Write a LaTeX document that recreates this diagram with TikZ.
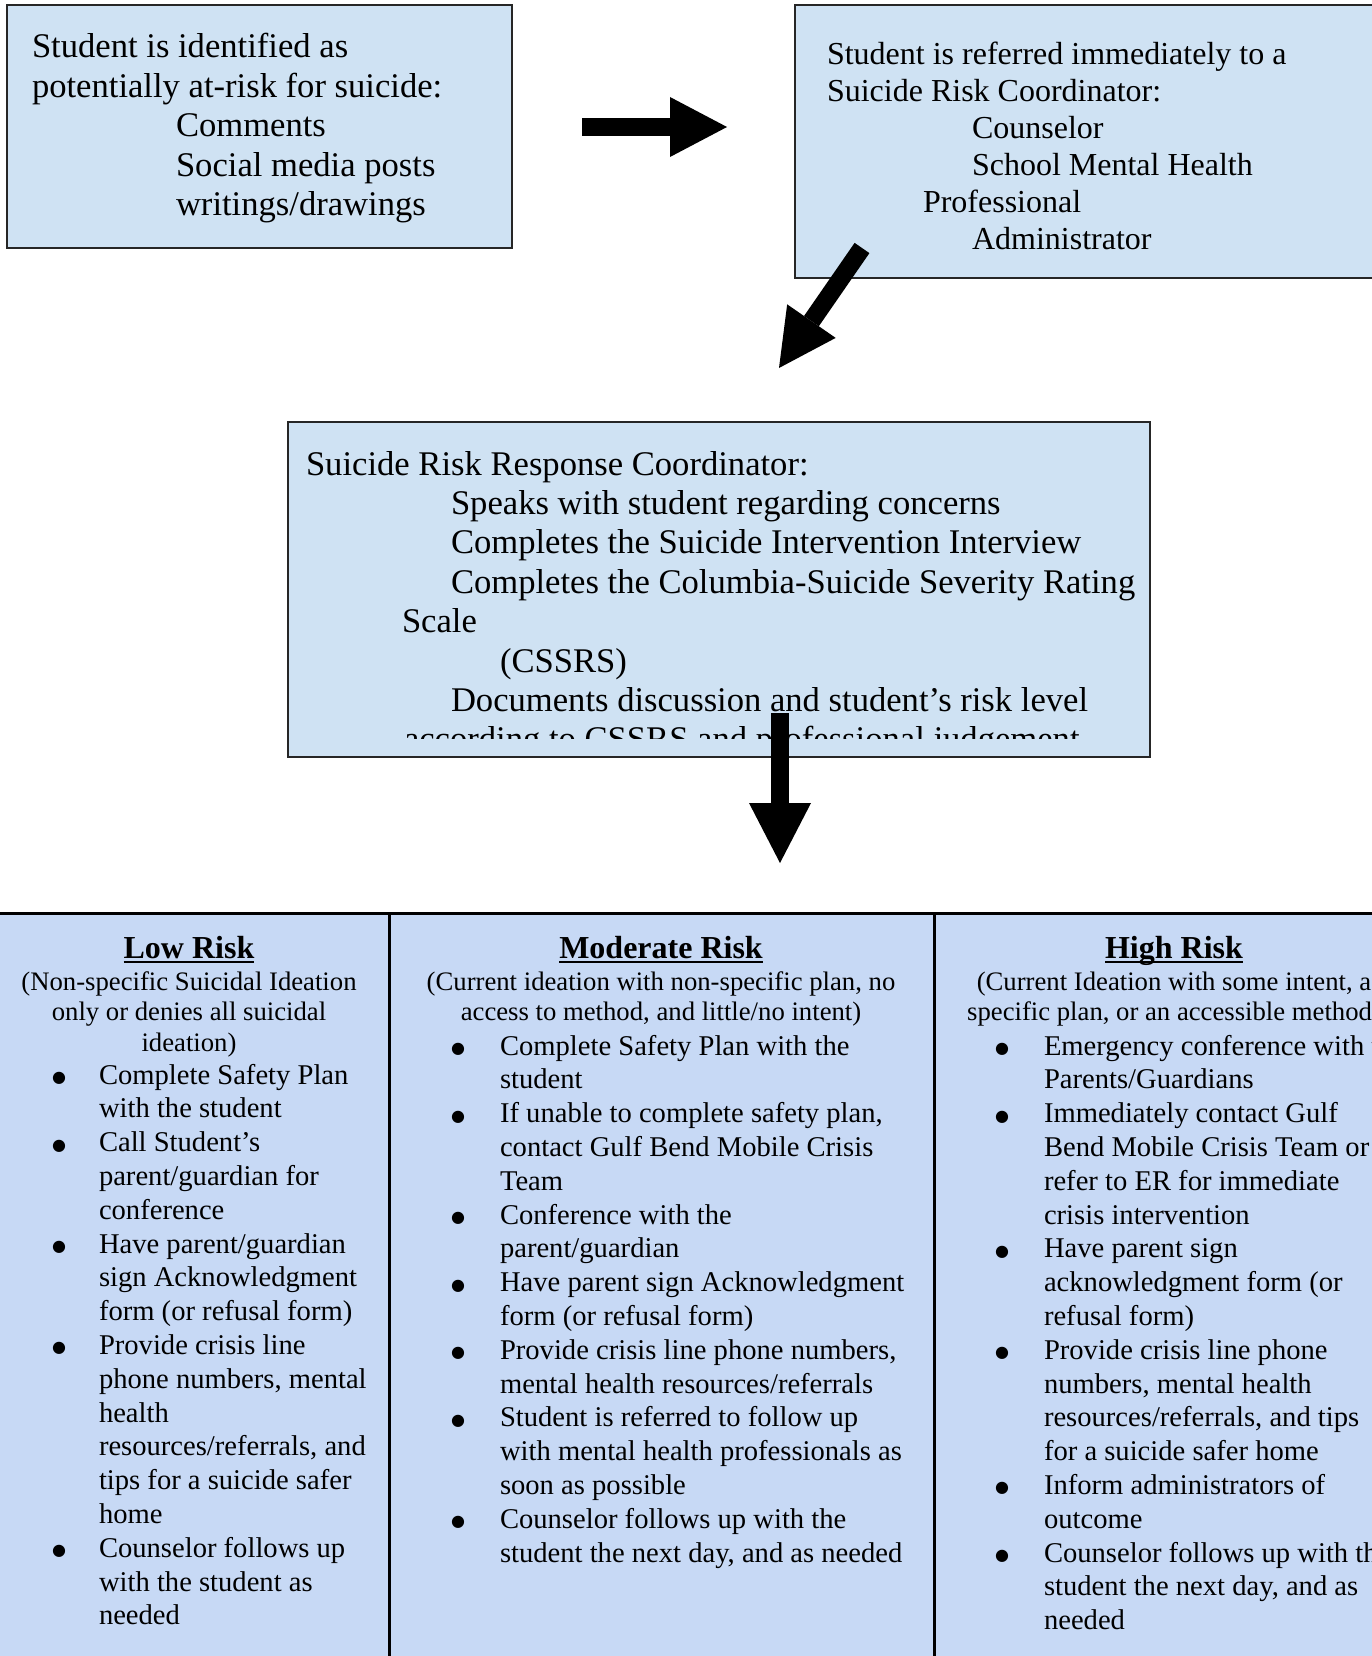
\documentclass[tikz,border=0pt]{standalone}
\usepackage{fontspec}
\setmainfont{Liberation Serif}
\newfontfamily\dejavu{DejaVu Sans}
\usetikzlibrary{arrows.meta}
\definecolor{boxblue}{RGB}{207,226,243}
\definecolor{tabblue}{RGB}{199,217,245}
\newcommand\hdul[1]{\setbox0=\hbox{#1}\rlap{\rule[-5pt]{\wd0}{2pt}}\box0}
\newcommand\dotglyph{\raisebox{1.5pt}{\dejavu\fontsize{16pt}{16pt}\selectfont ●}}
\newcommand\bulA{\llap{\dotglyph\hspace{33pt}}}
\newcommand\bulB{\llap{\dotglyph\hspace{35pt}}}
\begin{document}
\begin{tikzpicture}[x=1pt,y=-1pt,
  box/.style={draw=black!85, line width=1.6pt, fill=boxblue, inner sep=0pt, outer sep=0pt, anchor=north west},
  cell/.style={draw=black, line width=3pt, fill=tabblue, inner sep=0pt, outer sep=0pt, anchor=north west},
  txt/.style={inner sep=0pt, outer sep=0pt, align=left, anchor=base west},
  big/.style={font=\fontsize{34.6pt}{39.4pt}\selectfont},
  mid/.style={font=\fontsize{32pt}{36.8pt}\selectfont},
  desc/.style={inner sep=0pt, outer sep=0pt, align=center, anchor=base, font=\fontsize{26.7pt}{30.6pt}\selectfont},
  head/.style={inner sep=0pt, outer sep=0pt, anchor=base, font=\fontsize{32pt}{36pt}\selectfont\bfseries},
  item/.style={txt, font=\fontsize{28.6pt}{33.8pt}\selectfont},
  blockarrow/.style={line width=18pt}
]
\useasboundingbox (0,0) rectangle (1371,1656);

% ---- top boxes (text nodes are anchored at the baseline of their LAST line)
\node[box, minimum width=505pt, minimum height=243pt] (boxA) at (7,5) {};
\node[box, minimum width=600pt, minimum height=273pt] (boxB) at (795,5) {};
\node[box, minimum width=862pt, minimum height=335pt] (boxC) at (288,422) {};

\node[txt, big] (tA) at (32,215.6) {Student is identified as\\potentially at-risk for suicide:\\\hspace*{144pt}Comments\\\hspace*{144pt}Social media posts\\\hspace*{144pt}writings/drawings};

\node[txt, mid] (tB) at (827,249) {Student is referred immediately to a\\Suicide Risk Coordinator:\\\hspace*{145pt}Counselor\\\hspace*{145pt}School Mental Health\\\hspace*{96pt}Professional\\\hspace*{145pt}Administrator};

\begin{scope}
\clip (288,422) rectangle (1150,738);
\node[txt, big] (tC) at (306,750.8) {Suicide Risk Response Coordinator:\\\hspace*{145pt}Speaks with student regarding concerns\\\hspace*{145pt}Completes the Suicide Intervention Interview\\\hspace*{145pt}Completes the Columbia-Suicide Severity Rating\\\hspace*{96pt}Scale\\\hspace*{194pt}(CSSRS)\\\hspace*{145pt}Documents discussion and student’s risk level\\\hspace*{98pt}according to CSSRS and professional judgement};
\end{scope}

% ---- arrows
\coordinate (r1) at (582,127);
\coordinate (r2) at (727,127);
\coordinate (d1) at (862,248);
\coordinate (d2) at (779,368);
\coordinate (v1) at (780,713);
\coordinate (v2) at (780,863);
\draw[blockarrow, -{Triangle[length=57pt,width=60pt,line width=0pt]}] (r1) -- (r2);
\draw[blockarrow, -{Triangle[length=57pt,width=59pt,line width=0pt]}] (d1) -- (d2);
\draw[blockarrow, -{Triangle[length=60pt,width=62pt,line width=0pt]}] (v1) -- (v2);

% ---- table
\node[cell, minimum width=401.5pt, minimum height=800pt] (low) at (-12,913) {};
\node[cell, minimum width=544.5pt, minimum height=800pt] (mod) at (389.5,913) {};
\node[cell, minimum width=480pt, minimum height=800pt] (high) at (934,913) {};

\node[head] (lowh) at (189,958) {\hdul{Low Risk}};
\node[head] (modh) at (661,958) {\hdul{Moderate Risk}};
\node[head] (highh) at (1174,958) {\hdul{High Risk}};

\node[desc] (lowd) at (189,1051.2) {(Non-specific Suicidal Ideation\\only or denies all suicidal\\ideation)};
\node[desc] (modd) at (661,1020.6) {(Current ideation with non-specific plan, no\\access to method, and little/no intent)};
\node[desc] (highd) at (1174,1020.6) {(Current Ideation with some intent, a\\specific plan, or an accessible method)};

\node[item] (lowi) at (99,1624.8) {\bulA Complete Safety Plan\\with the student\\\bulA Call Student’s\\parent/guardian for\\conference\\\bulA Have parent/guardian\\sign Acknowledgment\\form (or refusal form)\\\bulA Provide crisis line\\phone numbers, mental\\health\\resources/referrals, and\\tips for a suicide safer\\home\\\bulA Counselor follows up\\with the student as\\needed};

\node[item] (modi) at (500,1562) {\bulB Complete Safety Plan with the\\student\\\bulB If unable to complete safety plan,\\contact Gulf Bend Mobile Crisis\\Team\\\bulB Conference with the\\parent/guardian\\\bulB Have parent sign Acknowledgment\\form (or refusal form)\\\bulB Provide crisis line phone numbers,\\mental health resources/referrals\\\bulB Student is referred to follow up\\with mental health professionals as\\soon as possible\\\bulB Counselor follows up with the\\student the next day, and as needed};

\node[item] (highi) at (1044,1629.6) {\bulB Emergency conference with the\\Parents/Guardians\\\bulB Immediately contact Gulf\\Bend Mobile Crisis Team or\\refer to ER for immediate\\crisis intervention\\\bulB Have parent sign\\acknowledgment form (or\\refusal form)\\\bulB Provide crisis line phone\\numbers, mental health\\resources/referrals, and tips\\for a suicide safer home\\\bulB Inform administrators of\\outcome\\\bulB Counselor follows up with the\\student the next day, and as\\needed};
\end{tikzpicture}
\end{document}
